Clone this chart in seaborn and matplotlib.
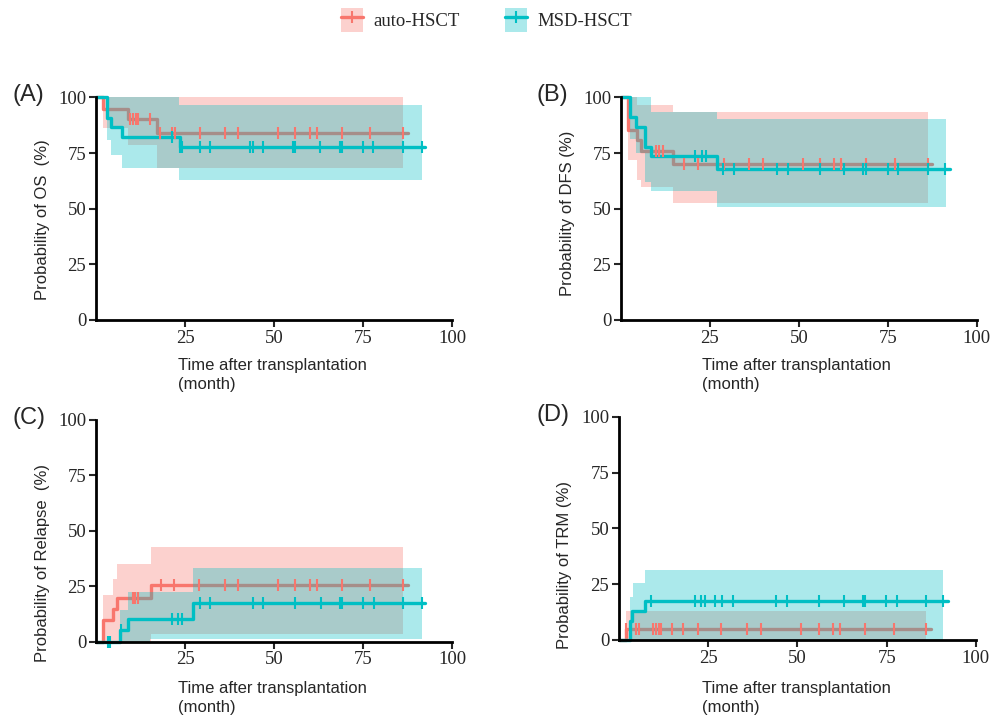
import numpy as np
import matplotlib
matplotlib.use("Agg")
import matplotlib.pyplot as plt
import seaborn as sns
from matplotlib.patches import Patch
from matplotlib.lines import Line2D

# ---- data (months, %) ----
groups = ["auto-HSCT", "MSD-HSCT"]
colors = {"auto-HSCT": "#F8766D", "MSD-HSCT": "#00BFC4"}

# (A) OS
A_auto_t = [0, 2, 9, 17, 87.5]
A_auto_s = [100, 94.7, 90.1, 83.8, 83.8]
A_auto_cens = [9.5, 10.3, 11.1, 11.9, 15.2, 18, 21.3, 22.2, 29.2, 36.2, 40, 51.2, 55.9, 60.1, 62, 69, 77, 86.3]
A_auto_ci_t = [0, 2, 9, 17, 86.3]
A_auto_lo = [100, 86.3, 78.5, 68.2, 68.2]
A_auto_hi = [100, 100, 100, 100, 100]
A_msd_t = [0, 3, 4.2, 7.2, 23.6, 92.4]
A_msd_s = [100, 90.8, 86.9, 82.4, 77.9, 77.9]
A_msd_cens = [21.3, 23.6, 24.1, 29.2, 32, 43.3, 44.2, 47, 55.4, 55.9, 62.9, 68.5, 69, 75.1, 77.9, 86.3, 91.5]
A_msd_ci_t = [0, 3, 4.2, 7.2, 23.3, 91.5]
A_msd_lo = [100, 80.7, 73.9, 68.2, 62.7, 62.7]
A_msd_hi = [100, 100, 100, 100, 96.5, 96.5]

# (B) DFS
B_auto_t = [0, 1.9, 4.4, 5.6, 14.7, 87.4]
B_auto_s = [100, 85.3, 80.7, 75.9, 70.1, 70.1]
B_auto_cens = [9.8, 10.8, 11.7, 17.8, 21.7, 28.9, 35.9, 39.8, 51.1, 56, 60, 61.9, 68.9, 77.1, 86.2]
B_auto_ci_t = [0, 1.9, 4.4, 5.6, 14.7, 86.2]
B_auto_lo = [100, 71.7, 63, 59.6, 52.4, 52.4]
B_auto_hi = [100, 100, 96.5, 96.5, 93.5, 93.5]
B_msd_t = [0, 2.5, 4.2, 6.8, 8.4, 26.9, 92.3]
B_msd_s = [100, 91, 86.7, 77.7, 73.8, 67.9, 67.9]
B_msd_cens = [20.9, 22.7, 23.9, 28.8, 31.9, 43.9, 46.9, 56, 62.8, 68.1, 68.9, 75, 77.9, 86.2, 90.9]
B_msd_ci_t = [0, 2.5, 4.2, 6.8, 8.4, 26.9, 91.2]
B_msd_lo = [100, 81.5, 75, 62, 58.1, 50.6, 50.6]
B_msd_hi = [100, 100, 100, 100, 93.5, 90.5, 90.5]

# (C) Relapse
C_auto_t = [0, 2.1, 4.9, 6, 15.4, 87.5]
C_auto_s = [0, 9.6, 14.5, 19.6, 25.6, 25.6]
C_auto_cens = [10.3, 11, 11.9, 18.2, 21.9, 29, 36.2, 40, 51.2, 55.9, 60.1, 62, 69, 77, 86.3]
C_auto_ci_t = [0, 2.1, 4.9, 6, 15.4, 86.3]
C_auto_lo = [0, 0, 0, 0, 3.3, 3.3]
C_auto_hi = [0, 21.1, 28.1, 35, 42.8, 42.8]
C_msd_t = [0, 6.7, 9.1, 27.2, 92.4]
C_msd_s = [0, 5.1, 10.3, 17.4, 17.4]
C_msd_cens = [3.5, 3.9, 6.9, 21.3, 23.1, 24.1, 29.2, 32, 44.2, 47, 55.9, 63.1, 68.4, 69, 75.1, 78.1, 86.3, 91.5]
C_msd_ci_t = [0, 6.7, 9.1, 15.3, 27.2, 91.5]
C_msd_lo = [0, 0, 0, 1.2, 1.2, 1.2]
C_msd_hi = [0, 14.1, 22.3, 22.3, 33.1, 33.1]

# (D) TRM
D_auto_t = [0, 1.9, 87.4]
D_auto_s = [0, 4.8, 4.8]
D_auto_cens = [2, 4.9, 5.6, 9.7, 10.4, 11.2, 11.9, 14.9, 17.9, 22.1, 28.6, 35.8, 39.8, 51, 56, 59.9, 61.9, 69, 77, 86]
D_auto_ci_t = [0, 1.9, 86]
D_auto_lo = [0, 0, 0]
D_auto_hi = [0, 13.2, 13.2]
D_msd_t = [0, 3, 3.7, 7.4, 92.3]
D_msd_s = [0, 8.7, 13.2, 17.4, 17.4]
D_msd_cens = [9, 21.2, 23, 24, 27, 28.9, 31.9, 44, 47, 56, 63, 68.3, 69, 74.8, 77.8, 86, 90.9]
D_msd_ci_t = [0, 3, 4, 7.3, 90.9]
D_msd_lo = [0, 0, 0, 0, 0]
D_msd_hi = [0, 19.2, 25.5, 31.2, 31.2]

panels = [
    ("(A)", "Probability of OS  (%)",
     (A_auto_t, A_auto_s, A_auto_cens, A_auto_ci_t, A_auto_lo, A_auto_hi),
     (A_msd_t, A_msd_s, A_msd_cens, A_msd_ci_t, A_msd_lo, A_msd_hi)),
    ("(B)", "Probability of DFS (%)",
     (B_auto_t, B_auto_s, B_auto_cens, B_auto_ci_t, B_auto_lo, B_auto_hi),
     (B_msd_t, B_msd_s, B_msd_cens, B_msd_ci_t, B_msd_lo, B_msd_hi)),
    ("(C)", "Probability of Relapse  (%)",
     (C_auto_t, C_auto_s, C_auto_cens, C_auto_ci_t, C_auto_lo, C_auto_hi),
     (C_msd_t, C_msd_s, C_msd_cens, C_msd_ci_t, C_msd_lo, C_msd_hi)),
    ("(D)", "Probability of TRM (%)",
     (D_auto_t, D_auto_s, D_auto_cens, D_auto_ci_t, D_auto_lo, D_auto_hi),
     (D_msd_t, D_msd_s, D_msd_cens, D_msd_ci_t, D_msd_lo, D_msd_hi)),
]

sns.set_style("ticks")
plt.rcParams["font.family"] = ["Liberation Sans", "DejaVu Sans"]

fig = plt.figure(figsize=(10.03, 7.27), dpi=100)
# axes boxes in figure fraction
boxes = [
    [0.0957, 0.560, 0.355, 0.306],
    [0.619, 0.560, 0.355, 0.306],
    [0.0957, 0.1176, 0.355, 0.305],
    [0.617, 0.1197, 0.356, 0.307],
]
label_y = [0.45, 0.477, 0.356, 0.336]
xlab_pos = [(0.230, -0.171), (0.228, -0.171), (0.230, -0.178), (0.233, -0.184)]
letter_pos = [(0.012, 0.869), (0.535, 0.869), (0.012, 0.425), (0.535, 0.429)]

serif = ["Liberation Serif", "DejaVu Serif"]
ci_alpha = 0.33


def step_at(t, s, x):
    idx = np.searchsorted(t, x, side="right") - 1
    return np.asarray(s)[idx]


for i, (letter, ylab, auto, msd) in enumerate(panels):
    ax = fig.add_axes(boxes[i])
    data = {"auto-HSCT": auto, "MSD-HSCT": msd}
    # fill then line per group, so the later band tints the earlier curve
    for k, g in enumerate(groups):
        t, s, cens, ct, lo, hi = data[g]
        ax.fill_between(ct, lo, hi, step="post", color=colors[g], alpha=ci_alpha, lw=0,
                        zorder=1 + 2 * k)
        sns.lineplot(x=t, y=s, drawstyle="steps-post", color=colors[g], lw=2.4,
                     estimator=None, sort=False, ax=ax, clip_on=False, zorder=2 + 2 * k)
    for g in groups:
        t, s, cens, ct, lo, hi = data[g]
        ax.plot(cens, step_at(t, s, cens), ls="none", marker="|", ms=9, mew=1.5,
                color=colors[g], clip_on=False, zorder=6)

    ax.set_xlim(0, 100)
    ax.set_ylim(0, 100)
    ax.set_xticks([25, 50, 75, 100])
    ax.set_yticks([0, 25, 50, 75, 100])
    ax.tick_params(direction="out", length=5, width=1.5, pad=2, labelsize=13.5)
    for lab in ax.get_xticklabels() + ax.get_yticklabels():
        lab.set_family(serif)
    sns.despine(ax=ax)
    for sp in ["left", "bottom"]:
        ax.spines[sp].set_linewidth(2)
        ax.spines[sp].set_color("black")
        ax.spines[sp].set_zorder(7)
    ax.set_ylabel(ylab, fontsize=12)
    ax.yaxis.set_label_coords(-0.13, label_y[i])
    ax.set_xlabel("")
    ax.text(xlab_pos[i][0], xlab_pos[i][1], "Time after transplantation\n(month)",
            transform=ax.transAxes, ha="left", va="top", fontsize=12, linespacing=1.3)
    fig.text(letter_pos[i][0], letter_pos[i][1], letter, fontsize=17, ha="left", va="center")

handles = [(Patch(facecolor=colors[g], alpha=ci_alpha, lw=0),
            Line2D([], [], color=colors[g], lw=2.4, marker="|", ms=9, mew=1.5)) for g in groups]
fig.legend(handles, groups, loc="center", bbox_to_anchor=(0.485, 0.9725), ncol=2,
           frameon=False, prop={"family": serif, "size": 13.5},
           handlelength=1.2, handleheight=1.6, handletextpad=0.55, columnspacing=2.4)

fig.savefig("out.png", dpi=100)
